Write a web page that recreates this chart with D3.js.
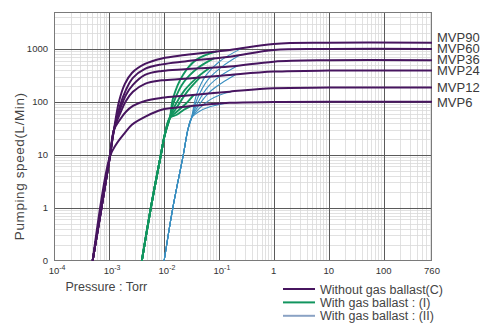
<!DOCTYPE html>
<html>
<head>
<meta charset="utf-8">
<script src="https://cdn.jsdelivr.net/npm/d3@7"></script>
<style>
  html, body { margin: 0; padding: 0; background: #fff; }
  svg { display: block; font-family: "Liberation Sans", Arial, sans-serif; }
</style>
</head>
<body>
<svg id="chart" width="486" height="328"></svg>
<script>
// Pump models, top to bottom
const models = ["MVP90", "MVP60", "MVP36", "MVP24", "MVP12", "MVP6"];

// Axis ticks
const xTickValues = [1e-4, 1e-3, 1e-2, 1e-1, 1, 10, 100, 760];
const xTickBase   = ["10", "10", "10", "10", "1", "10", "100", "760"];
const xTickExp    = ["-4", "-3", "-2", "-1", "", "", "", ""];
const yTickValues = [0.1, 1, 10, 100, 1000];
const yTickLabels = ["0", "1", "10", "100", "1000"];

// [pressure (Torr), pumping speed (L/min)]
// Without gas ballast (C): shared rising stem, then one branch per model
const stemC      = [[5.06e-4, 0.1], [1.04e-3, 9.2]];
const stemCUpper = [[1.23e-3, 29]];
const mvp90C = [[1.52e-3, 100], [1.95e-3, 219], [2.62e-3, 352], [4.52e-3, 521], [9.2e-3, 662], [0.0241, 770], [0.158, 958], [1, 1240], [10, 1310], [760, 1310]];
const mvp60C = [[1.585e-3, 84], [2.04e-3, 168], [2.73e-3, 284], [4.52e-3, 420], [9.2e-3, 511], [0.0241, 581], [0.158, 716], [1, 958], [10, 1000], [760, 1000]];
const mvp36C = [[1.585e-3, 71], [2.04e-3, 135], [2.73e-3, 209], [4.52e-3, 323], [9.2e-3, 384], [0.0241, 414], [0.158, 464], [1, 575], [10, 612], [760, 612]];
const mvp24C = [[1.585e-3, 59], [2.04e-3, 104], [2.73e-3, 155], [4.52e-3, 219], [9.2e-3, 255], [0.0241, 272], [0.158, 323], [1, 373], [10, 390], [760, 390]];
const mvp12C = [[1.585e-3, 46], [2.04e-3, 65], [2.73e-3, 84], [4.52e-3, 104], [9.2e-3, 119], [0.0241, 131], [0.158, 156], [1, 181], [10, 186], [760, 186]];
const mvp6C  = [[1.34e-3, 15.5], [1.95e-3, 26], [2.62e-3, 37], [4.52e-3, 52], [9.08e-3, 71], [0.0241, 80.5], [0.158, 96], [1, 99], [10, 100], [760, 100]];

// With gas ballast (I)
const stemI  = [[3.98e-3, 0.1], [5.8e-3, 1], [8.82e-3, 10], [1.04e-2, 24], [1.285e-2, 50]];
const mvp90I = [[1.476e-2, 119], [2.24e-2, 327], [3.93e-2, 628], [0.0908, 898]];
const mvp60I = [[1.52e-2, 100], [2.31e-2, 238], [4.15e-2, 438], [0.0811, 665]];
const mvp36I = [[1.585e-2, 84], [2.41e-2, 168], [4.15e-2, 297], [0.0686, 441]];
const mvp24I = [[1.652e-2, 74], [2.73e-2, 161], [4.51e-2, 288]];
const mvp12I = [[1.72e-2, 65], [2.51e-2, 92], [3.51e-2, 135]];
const mvp6I  = [[1.72e-2, 57], [2.31e-2, 71], [2.97e-2, 81.5]];

// With gas ballast (II)
const stemII  = [[1.013e-2, 0.1], [1.459e-2, 1], [2.26e-2, 10], [2.73e-2, 29.6], [3.19e-2, 50]];
const mvp90II = [[3.93e-2, 137], [5.97e-2, 327], [0.1043, 586], [0.259, 1026]];
const mvp60II = [[4.06e-2, 114], [6.31e-2, 260], [0.1134, 458], [0.241, 766]];
const mvp36II = [[4.15e-2, 96], [6.58e-2, 200], [0.1134, 323], [0.221, 483]];
const mvp24II = [[4.24e-2, 84], [6.86e-2, 155], [0.1134, 228], [0.204, 330]];
const mvp12II = [[4.33e-2, 74], [6.86e-2, 109], [0.1043, 135], [0.172, 157]];
const mvp6II  = [[4.33e-2, 65], [6.86e-2, 80.5], [0.134, 94.4]];

const legendLabels = ["Without gas ballast(C)", "With gas ballast : (I)", "With gas ballast : (II)"];

// ---- layout ----
const colC = "#47155f", colI = "#12955f", colII = "#3b8fc0", colIILegend = "#8aa2c4";
const svg = d3.select("#chart");
const plot = { left: 54, right: 432, top: 12, bottom: 260.5 };

const x = d3.scaleLog().domain([1e-4, 760]).range([plot.left, plot.right]);
const y = d3.scaleLog().domain([0.1, 5000]).range([plot.bottom, plot.top]);

svg.append("defs").append("clipPath").attr("id", "plotClip")
  .append("rect").attr("x", plot.left).attr("y", plot.top)
  .attr("width", plot.right - plot.left).attr("height", plot.bottom - plot.top);

// minor grid
const grid = svg.append("g");
grid.selectAll("line.vx").data(x.ticks().filter(v => v > 1e-4 && v < 760)).join("line")
  .attr("x1", d => Math.round(x(d)) + 0.5).attr("x2", d => Math.round(x(d)) + 0.5)
  .attr("y1", plot.top).attr("y2", plot.bottom)
  .attr("stroke", "#d9d9d9").attr("stroke-width", 0.8);
grid.selectAll("line.hy").data(y.ticks().filter(v => v > 0.1 && v < 5000)).join("line")
  .attr("y1", d => Math.round(y(d)) + 0.5).attr("y2", d => Math.round(y(d)) + 0.5)
  .attr("x1", plot.left).attr("x2", plot.right)
  .attr("stroke", "#d9d9d9").attr("stroke-width", 0.8);

// major grid
grid.selectAll("line.mx").data(xTickValues.slice(1, -1)).join("line")
  .attr("x1", d => Math.round(x(d)) + 0.5).attr("x2", d => Math.round(x(d)) + 0.5)
  .attr("y1", plot.top).attr("y2", plot.bottom)
  .attr("stroke", "#5a5a5a").attr("stroke-width", 1);
grid.selectAll("line.my").data(yTickValues.slice(1)).join("line")
  .attr("y1", d => Math.round(y(d)) + 0.5).attr("y2", d => Math.round(y(d)) + 0.5)
  .attr("x1", plot.left).attr("x2", plot.right)
  .attr("stroke", "#5a5a5a").attr("stroke-width", 1);

// frame
svg.append("rect")
  .attr("x", plot.left + 0.5).attr("y", plot.top + 0.5)
  .attr("width", plot.right - plot.left - 1).attr("height", plot.bottom - plot.top - 0.5)
  .attr("fill", "none").attr("stroke", "#7a7a7a").attr("stroke-width", 1);

// ---- curves ----
const line = d3.line()
  .x(d => x(d[0])).y(d => y(d[1]))
  .curve(d3.curveCatmullRom.alpha(0.5));

const seriesC = [
  stemC.concat(stemCUpper, mvp90C),
  stemC.concat(stemCUpper, mvp60C),
  stemC.concat(stemCUpper, mvp36C),
  stemC.concat(stemCUpper, mvp24C),
  stemC.concat(stemCUpper, mvp12C),
  stemC.concat(mvp6C)
];
const seriesI  = [mvp90I, mvp60I, mvp36I, mvp24I, mvp12I, mvp6I].map(s => stemI.concat(s));
const seriesII = [mvp90II, mvp60II, mvp36II, mvp24II, mvp12II, mvp6II].map(s => stemII.concat(s));

const curves = svg.append("g").attr("clip-path", "url(#plotClip)").attr("fill", "none")
  .attr("stroke-linejoin", "round").attr("stroke-linecap", "round");

curves.append("g").selectAll("path").data(seriesII).join("path")
  .attr("d", line).attr("stroke", colII).attr("stroke-width", 1.1);
curves.append("g").selectAll("path").data(seriesI).join("path")
  .attr("d", line).attr("stroke", colI).attr("stroke-width", 1.9);
curves.append("g").selectAll("path").data(seriesC).join("path")
  .attr("d", line).attr("stroke", colC).attr("stroke-width", 2);

// ---- model labels at the right end of each curve ----
const labelPos = seriesC.map(s => y(s[s.length - 1][1]));
for (let i = labelPos.length - 2; i >= 0; i--) {
  if (labelPos[i + 1] - labelPos[i] < 11) labelPos[i] = labelPos[i + 1] - 11;
}
svg.append("g").selectAll("text").data(models).join("text")
  .attr("x", plot.right + 5).attr("y", (d, i) => labelPos[i])
  .attr("dy", "0.36em")
  .attr("font-size", 13).attr("fill", "#3a3a3a")
  .text(d => d);

// ---- axis tick labels ----
const yLab = svg.append("g").attr("font-size", 9.5).attr("fill", "#333").attr("text-anchor", "end");
yLab.selectAll("text").data(yTickValues).join("text")
  .attr("x", plot.left - 6).attr("y", d => y(d)).attr("dy", "0.35em")
  .text((d, i) => yTickLabels[i]);

const xLab = svg.append("g").attr("font-size", 9.5).attr("fill", "#333");
xLab.selectAll("text").data(xTickValues).join("text")
  .attr("y", 274)
  .each(function (d, i) {
    const t = d3.select(this);
    const base = t.append("tspan").text(xTickBase[i]);
    if (xTickExp[i]) {
      t.append("tspan").attr("dy", -4).attr("font-size", 7).text(xTickExp[i]);
    }
    const w = base.node().getComputedTextLength();
    t.attr("x", x(d) - w / 2);
  });

// ---- axis titles ----
svg.append("text")
  .attr("transform", `translate(24,${(plot.top + plot.bottom) / 2 + 30}) rotate(-90)`)
  .attr("text-anchor", "middle")
  .attr("font-size", 13.5).attr("letter-spacing", 0.6).attr("fill", "#444")
  .text("Pumping speed(L/Min)");

svg.append("text")
  .attr("x", 65.5).attr("y", 291)
  .attr("font-size", 12.5).attr("fill", "#444")
  .text("Pressure : Torr");

// ---- legend ----
const legColors = [colC, colI, colIILegend];
const leg = svg.append("g");
const legRows = leg.selectAll("g").data(legendLabels).join("g")
  .attr("transform", (d, i) => `translate(283,${289 + i * 13.4})`);
legRows.append("line")
  .attr("x1", 0).attr("x2", 32).attr("y1", 0).attr("y2", 0)
  .attr("stroke", (d, i) => legColors[i]).attr("stroke-width", 2);
legRows.append("text")
  .attr("x", 37).attr("y", 0).attr("dy", "0.36em")
  .attr("font-size", 12.5).attr("fill", "#444")
  .text(d => d);
</script>
</body>
</html>
